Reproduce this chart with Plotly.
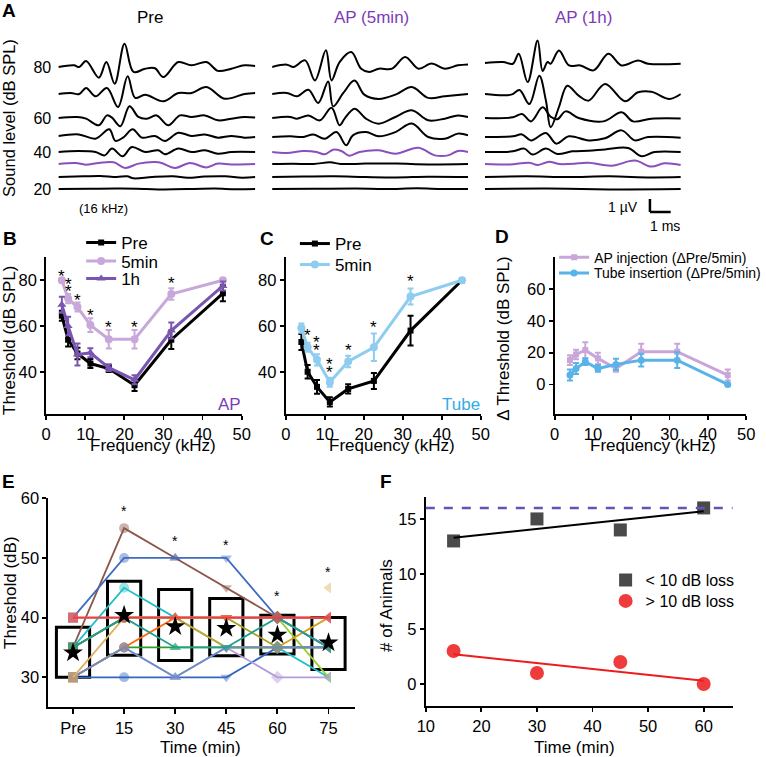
import numpy as np
import plotly.graph_objects as go

W, H = 766, 757
FONT = "Liberation Sans, Arial, sans-serif"

# ---------------- Panel A: ABR waveforms (time ms, amplitude µV) ----------------
abr_levels = [80, 70, 60, 50, 40, 30, 25, 20]
abr_level_ticks = [80, 60, 40, 20]
abr_conditions = ["Pre", "AP (5min)", "AP (1h)"]
abr_threshold = [30, 40, 30]  # level drawn in purple for each condition

wave_pre = [
    [(0, 0), (0.75, 0.13), (1.0, 0.0), (1.33, 0.46), (1.94, -0.82), (2.30, 0.38), (2.70, -1.28), (3.17, 1.79),
     (3.60, -0.38), (4.16, -0.13), (4.63, -0.1), (5.03, -0.77), (5.75, 0.38), (6.38, 0.13), (7.10, 0.38),
     (7.65, -0.3), (8.29, -0.13), (8.92, 0.13), (9.44, 0.08)],
    [(0, 0), (0.59, 0.08), (1.0, 0.0), (1.33, 0.46), (1.78, -0.18), (2.33, 0.46), (2.86, -1.0), (3.32, 1.36),
     (3.68, -0.3), (4.16, -0.05), (5.03, -0.56), (5.75, 0.08), (6.38, 0.08), (7.10, 0.54), (7.97, -0.36),
     (8.92, 0.0), (9.44, 0.08)],
    [(0, 0), (0.9, 0.08), (1.33, -0.05), (1.94, -0.56), (2.33, 0.2), (2.57, 0.03), (2.97, -0.64), (3.41, 0.9),
     (3.84, 0.08), (4.24, -0.05), (4.71, 0.2), (5.27, -0.56), (5.83, 0.2), (6.38, 0.08), (7.02, 0.2),
     (7.65, -0.18), (8.29, -0.05), (8.92, 0.08), (9.44, 0.03)],
    [(0, 0.08), (0.98, 0.2), (1.78, -0.13), (2.44, 0.59), (2.73, -0.3), (3.1, -0.05), (3.56, 0.59), (4.0, -0.05),
     (4.63, 0.08), (5.11, -0.3), (5.75, 0.33), (6.38, 0.08), (7.02, 0.2), (7.65, -0.05), (8.29, 0.08),
     (8.92, -0.05), (9.44, 0)],
    [(0, 0), (0.98, 0.08), (1.78, 0), (2.22, -0.26), (2.57, 0.26), (3.08, -0.33), (3.52, 0.38), (4.16, 0),
     (4.79, 0.13), (5.11, -0.18), (5.75, 0.26), (6.38, 0), (7.02, 0.13), (7.65, -0.13), (8.29, 0), (9.44, 0)],
    [(0, 0), (0.83, 0.08), (1.3, -0.05), (1.94, 0.08), (2.65, 0.13), (3.2, -0.3), (3.84, 0.03), (4.63, 0.15),
     (4.95, 0.08), (5.59, -0.3), (6.3, 0.08), (7.1, -0.26), (7.65, 0.03), (8.29, -0.03), (9.44, 0)],
    [(0, 0), (1.2, 0.05), (2.0, 0.08), (2.8, 0.0), (3.3, 0.05), (3.6, -0.1), (4.5, 0.0), (5.5, 0.05),
     (6.2, -0.05), (7.0, 0.03), (8.0, 0.05), (8.8, -0.05), (9.44, 0)],
    [(0, 0), (1.5, 0.02), (3.0, 0.03), (4.2, 0.0), (5.0, -0.03), (6.5, 0.0), (7.5, 0.03), (8.5, -0.02), (9.44, 0)],
]
wave_ap5 = [
    [(0, 0), (0.71, 0.18), (1.03, 0), (1.59, 0.51), (2.06, -1.03), (2.59, 1.28), (2.86, -1.03), (3.25, 0.38),
     (3.81, 1.15), (4.29, -0.13), (4.68, -0.38), (5.14, -0.13), (5.78, -0.13), (6.41, 0.77), (7.05, -0.13),
     (7.68, 0.26), (8.32, -0.13), (8.95, 0.13), (9.44, 0.2)],
    [(0, 0), (0.71, 0.08), (1.19, -0.18), (1.75, 0.33), (2.22, -0.69), (2.70, 0.97), (2.94, -0.95), (3.43, 0.08),
     (3.97, 1.03), (4.44, -0.05), (5.14, -0.38), (5.94, -0.05), (6.73, 0.54), (7.52, -0.3), (8.32, -0.18),
     (9.44, 0)],
    [(0, 0), (0.87, 0.08), (1.19, -0.05), (1.75, 0.2), (2.3, -0.18), (2.86, 0.79), (3.25, -0.56), (3.49, -0.05),
     (3.97, 0.72), (4.52, -0.05), (5.14, -0.44), (5.94, 0.08), (6.73, 0.59), (7.52, -0.18), (8.32, -0.05),
     (8.95, 0.2), (9.44, 0.08)],
    [(0, 0), (0.87, 0.05), (1.51, 0), (1.98, 0.2), (2.54, -0.13), (3.1, 0.38), (3.57, -0.64), (3.89, 0.13),
     (4.52, 0.38), (5.14, 0.05), (5.94, 0.38), (6.73, 1.03), (7.52, 0), (8.32, -0.13), (8.95, 0.26), (9.44, 0.13)],
    [(0, 0), (0.71, -0.08), (1.51, 0.08), (2.14, 0), (2.54, -0.18), (2.94, 0.18), (3.33, 0.08), (3.73, -0.28),
     (4.21, 0), (5.14, 0.13), (5.94, -0.13), (7.05, 0.33), (7.84, -0.26), (8.48, -0.26), (8.95, 0.08), (9.44, 0)],
    [(0, 0), (1.0, 0.02), (2.0, 0), (2.8, 0.13), (3.3, 0), (4.5, 0.03), (6.0, 0.03), (7.5, -0.03), (9.44, 0)],
    [(0, 0), (1.5, 0.03), (3.0, 0.05), (4.5, 0), (6.0, -0.03), (7.5, 0.02), (9.44, 0)],
    [(0, 0), (2.0, 0.02), (4.0, 0.03), (5.5, 0), (7.0, 0.05), (8.2, 0), (9.44, 0)],
]
wave_ap1h = [
    [(0, 0.3), (0.87, 0.38), (1.35, 0.25), (1.63, 1.02), (2.06, -1.16), (2.54, 2.04), (2.78, -0.3), (3.02, 0.38),
     (3.17, 0.25), (3.57, 1.27), (4.05, 0.12), (4.6, 0.12), (5.24, -0.26), (5.95, 1.02), (6.59, 0.12),
     (7.38, 0.5), (7.86, 0.25), (9.44, 0.25)],
    [(0, 0), (1.27, -0.05), (1.67, 0.31), (2.14, -0.77), (2.62, 1.41), (2.94, -0.5), (3.17, -2.56), (3.57, -1.0),
     (3.97, 0.64), (4.52, -0.13), (5.0, -0.51), (5.79, 0.77), (6.75, -0.56), (7.38, 0.13), (8.02, 0.18),
     (8.89, -0.38), (9.44, 0)],
    [(0, 0), (1.35, 0.05), (1.79, 0.31), (2.22, -0.26), (2.78, 0.82), (3.17, 0.1), (3.49, -0.1), (3.89, 0.51),
     (4.52, 0), (5.71, -0.26), (6.59, 0.44), (7.14, -0.26), (8.02, -0.05), (9.44, -0.03)],
    [(0, 0), (1.35, 0.05), (1.79, 0.2), (2.22, -0.26), (2.94, 0.31), (3.44, -0.51), (4.05, 0.05), (5.0, -0.26),
     (5.79, -0.1), (6.59, 0.51), (7.22, -0.26), (7.86, 0), (9.44, -0.05)],
    [(0, 0), (1.35, 0.05), (1.9, 0.26), (2.3, -0.2), (2.94, 0.26), (3.49, -0.15), (4.21, 0.05), (5.0, 0.1),
     (5.79, 0.2), (6.9, 0.31), (7.54, -0.33), (8.17, 0), (9.44, 0)],
    [(0, 0), (1.19, -0.03), (2.14, 0.1), (2.54, -0.08), (3.1, 0.18), (3.57, 0), (4.52, 0.05), (5.0, 0.1),
     (6.11, -0.13), (7.22, 0.26), (8.02, -0.2), (8.65, 0.05), (9.44, -0.08)],
    [(0, 0), (2.0, 0.05), (4.0, 0), (6.0, 0.05), (8.0, -0.03), (9.44, 0)],
    [(0, 0), (3.0, 0.03), (6.0, -0.03), (9.44, 0)],
]

# ---------------- Panels B–D: thresholds vs frequency ----------------
freqs_khz = [4, 5.6, 8, 11.3, 16, 22.6, 32, 45.2]

b_pre = [64.5, 54.0, 48.0, 43.6, 41.4, 34.1, 54.0, 74.3]
b_pre_err = [2.2, 3.0, 2.5, 2.0, 1.5, 2.5, 4.0, 3.5]
b_5min = [80.0, 72.0, 68.3, 60.4, 54.2, 54.2, 74.0, 80.0]
b_5min_err = [1.0, 2.0, 2.0, 3.0, 4.0, 4.0, 2.5, 1.0]
b_1h = [69.3, 60.0, 47.5, 48.3, 41.8, 36.5, 58.0, 77.5]
b_1h_err = [3.5, 4.0, 4.8, 2.0, 1.5, 2.0, 3.5, 2.0]
b_star_khz = [4, 5.6, 5.6, 8, 11.3, 16, 22.6, 32]
b_star_db = [83.2, 79.7, 76.7, 73.0, 66.3, 61.0, 61.2, 80.5]

c_pre = [53.0, 40.0, 33.4, 26.8, 32.5, 36.0, 58.0, 80.0]
c_pre_err = [3.5, 3.0, 3.0, 2.0, 2.0, 3.5, 6.5, 0.5]
c_5min = [59.1, 50.7, 45.2, 35.4, 44.5, 50.7, 72.9, 80.0]
c_5min_err = [2.0, 2.0, 2.5, 2.0, 2.5, 6.0, 3.5, 0.5]
c_star_khz = [5.6, 8, 8, 11.3, 11.3, 16, 22.6, 32]
c_star_db = [57.6, 54.7, 51.0, 44.7, 41.5, 51.0, 61.3, 81.0]

d_ap = [15.3, 18.9, 21.6, 16.4, 10.0, 20.6, 20.6, 5.9]
d_ap_err = [3.0, 3.0, 5.0, 3.5, 2.0, 5.0, 5.0, 3.5]
d_tube = [5.9, 10.0, 14.3, 10.0, 12.6, 15.3, 15.3, 0.0]
d_tube_err = [3.5, 3.5, 2.0, 2.0, 3.5, 4.0, 5.0, 0.5]

# ---------------- Panel E: individual thresholds over time ----------------
e_times = ["Pre", "15", "30", "45", "60", "75"]
e_animals = [
    [35, 55, 50, 45, 40, 35],
    [40, 50, 50, 50, 40, 35],
    [35, 45, 40, 35, 35, 30],
    [30, 35, 35, 35, 35, 35],
    [35, 40, 40, 40, 40, 30],
    [30, 30, 30, 30, 35, 35],
    [35, 40, 40, 35, 35, 40],
    [40, 40, 40, 40, 35, 35],
    [35, 40, 40, 40, 40, 40],
    [30, 35, 30, 35, 30, 30],
    [30, 35, 40, 40, 40, 40],
    [40, 40, 40, 40, 40, 40],
    [30, 35, 30, 35, 35, 35],
    [35, 40, 35, 35, 40, 35],
    [30, 40, 40, 40, None, 45],
    [40, 40, 40, 40, 40, 40],
]
e_mean = [34.1, 40.4, 38.5, 38.2, 37.1, 35.8]
e_box_low = [30.0, 33.7, 32.8, 33.6, 33.9, 31.3]
e_box_high = [38.4, 46.1, 44.7, 43.2, 40.4, 40.0]
e_sig_times = ["15", "30", "45", "60", "75"]
e_sig_db = [58.3, 53.3, 52.7, 44.1, 48.1]

# ---------------- Panel F: number of animals ----------------
f_time = [15, 30, 45, 60]
f_less10 = [13, 15, 14, 16]
f_more10 = [3, 1, 2, 0]
f_total = 16

# ---------------- styles ----------------
PURPLE_WAVE = "#8A4FBA"
PURPLE_TXT = "#7D3CB5"
LAV = "#C8A8DA"
PURP_1H = "#7A56B2"
SKY = "#8ECDF0"
TUBE_TXT = "#33ABE6"
D_AP = "#C9A6DA"
D_TUBE = "#58B3E8"
F_GRAY = "#4A4A4A"
F_RED = "#EF3B3B"
F_DASH = "#6A50B5"
e_colors = ["#8C564B", "#3D6CC0", "#22BFC8", "#2CA02C", "#9ACD32", "#3466C0", "#D4A017", "#A8A020",
            "#555555", "#B49BDA", "#FF6A10", "#E377C2", "#6A8CC8", "#20A090", "#E0B060", "#F03C3C"]
e_symbols = ["square", "circle", "triangle-up", "triangle-down", "diamond", "triangle-left"]


def xdom(a, b):
    return [a / W, b / W]


def ydom(top, bot):
    return [1 - bot / H, 1 - top / H]


def rgba(hexc, a):
    h = hexc.lstrip("#")
    return "rgba(%d,%d,%d,%.2f)" % (int(h[0:2], 16), int(h[2:4], 16), int(h[4:6], 16), a)


fig = go.Figure()
layout = {}

# ---------- Panel A ----------
level_px = [67, 94, 118, 137, 152, 164, 177, 189]  # baseline pixel rows
UV_PX = 13.0
offsets = [(189 - p) / UV_PX for p in level_px]
a_domains = [(59, 258), (275, 473), (490, 688)]
waves = [wave_pre, wave_ap5, wave_ap1h]
for k in range(3):
    s = "" if k == 0 else str(k + 1)
    layout["xaxis" + s] = dict(domain=xdom(*a_domains[k]), range=[0, 9.44], visible=False, anchor="y" + s,
                               automargin=False)
    layout["yaxis" + s] = dict(domain=ydom(35, 216), range=[(189 - 216) / UV_PX, (189 - 35) / UV_PX],
                               anchor="x" + s, showline=False, showgrid=False, zeroline=False, automargin=False,
                               showticklabels=(k == 0), ticks="outside", ticklen=3, tickcolor="rgba(0,0,0,0)",
                               tickvals=[offsets[abr_levels.index(l)] for l in abr_level_ticks],
                               ticktext=[str(l) for l in abr_level_ticks],
                               tickfont=dict(size=16, color="black", family=FONT))
    for i, lvl in enumerate(abr_levels):
        pts = waves[k][i]
        col = PURPLE_WAVE if lvl == abr_threshold[k] else "black"
        fig.add_trace(go.Scatter(x=[p[0] for p in pts], y=[offsets[i] + p[1] for p in pts], mode="lines",
                                 line=dict(color=col, width=2, shape="spline", smoothing=1.0),
                                 xaxis="x" + s, yaxis="y" + s, showlegend=False, hoverinfo="skip"))

# scale bar: 1 ms x 1 µV
sb_x0, sb_y0 = (657 - 490) / 21.0, (189 - 212) / UV_PX
fig.add_shape(type="line", xref="x3", yref="y3", x0=sb_x0, x1=sb_x0, y0=sb_y0, y1=sb_y0 + 1,
              line=dict(color="black", width=2.5))
fig.add_shape(type="line", xref="x3", yref="y3", x0=sb_x0, x1=sb_x0 + 1, y0=sb_y0, y1=sb_y0,
              line=dict(color="black", width=2.5))


# ---------- common axis style ----------
def axstyle(**kw):
    d = dict(showline=True, linecolor="black", linewidth=2, ticks="outside", ticklen=4, tickwidth=1.8,
             tickcolor="black", showgrid=False, zeroline=False, mirror=False, automargin=False,
             tickfont=dict(size=16.5, color="black", family=FONT))
    d.update(kw)
    return d


freq_ticks = [0, 10, 20, 30, 40, 50]
# B
layout["xaxis4"] = axstyle(domain=xdom(46.7, 244.2), range=[0, 50], tickvals=freq_ticks, anchor="y4")
layout["yaxis4"] = axstyle(domain=ydom(256.7, 414.3), range=[21.4, 90.3], tickvals=[40, 60, 80], anchor="x4")
# C
layout["xaxis5"] = axstyle(domain=xdom(288.8, 485.8), range=[0, 50], tickvals=freq_ticks, anchor="y5")
layout["yaxis5"] = axstyle(domain=ydom(256.7, 414.3), range=[21.4, 90.3], tickvals=[40, 60, 80], anchor="x5")
# D
layout["xaxis6"] = axstyle(domain=xdom(560.5, 754), range=[0, 50], tickvals=freq_ticks, anchor="y6")
layout["yaxis6"] = axstyle(domain=ydom(256.7, 414.3), range=[-18.8, 80.4], tickvals=[0, 20, 40, 60], anchor="x6")
# E
layout["xaxis7"] = axstyle(domain=xdom(49, 358.3), range=[-0.48, 5.51], tickvals=list(range(len(e_times))),
                           ticktext=e_times, anchor="y7", ticklen=5)
layout["yaxis7"] = axstyle(domain=ydom(498.3, 706.7), range=[25.07, 60], tickvals=[30, 40, 50, 60], anchor="x7")
# F
layout["xaxis8"] = axstyle(domain=xdom(430.3, 740.3), range=[10, 65.2], tickvals=[10, 20, 30, 40, 50, 60],
                           anchor="y8")
layout["yaxis8"] = axstyle(domain=ydom(496.7, 705.7), range=[-1.97, 17.02], tickvals=[0, 5, 10, 15], anchor="x8")


def err_trace(x, y, e, name, color, symbol, size, ax, legend, width=3):
    return go.Scatter(x=x, y=y, name=name, mode="lines+markers",
                      error_y=dict(type="data", array=e, color=color, thickness=2, width=3),
                      line=dict(color=color, width=width), marker=dict(symbol=symbol, size=size, color=color),
                      xaxis="x" + ax, yaxis="y" + ax, legend=legend, cliponaxis=False)


# B traces
fig.add_trace(err_trace(freqs_khz, b_pre, b_pre_err, "Pre", "black", "square", 6, "4", "legend"))
fig.add_trace(err_trace(freqs_khz, b_5min, b_5min_err, "5min", LAV, "circle", 8, "4", "legend2"))
fig.add_trace(err_trace(freqs_khz, b_1h, b_1h_err, "1h", PURP_1H, "triangle-up", 8, "4", "legend3"))
# C traces
fig.add_trace(err_trace(freqs_khz, c_pre, c_pre_err, "Pre", "black", "square", 6, "5", "legend4"))
fig.add_trace(err_trace(freqs_khz, c_5min, c_5min_err, "5min", SKY, "circle", 8, "5", "legend5"))
# D traces
fig.add_trace(err_trace(freqs_khz, d_ap, d_ap_err, "AP injection (ΔPre/5min)", D_AP, "square", 6, "6", "legend6"))
fig.add_trace(err_trace(freqs_khz, d_tube, d_tube_err, "Tube insertion (ΔPre/5min)", D_TUBE, "circle", 7, "6",
                        "legend7"))

# E traces
xe = list(range(len(e_times)))
fig.add_trace(go.Bar(x=xe, y=[h - l for h, l in zip(e_box_high, e_box_low)], base=e_box_low, width=0.65,
                     marker=dict(color="rgba(0,0,0,0)", line=dict(color="black", width=3)),
                     xaxis="x7", yaxis="y7", showlegend=False, hoverinfo="skip"))
for vals, col in zip(e_animals, e_colors):
    fig.add_trace(go.Scatter(x=xe, y=vals, mode="lines+markers", connectgaps=False,
                             line=dict(color=col, width=1.8),
                             marker=dict(symbol=e_symbols, size=10, color=rgba(col, 0.45)),
                             xaxis="x7", yaxis="y7", showlegend=False, cliponaxis=False))
fig.add_trace(go.Scatter(x=xe, y=e_mean, mode="markers", marker=dict(symbol="star", size=15, color="black"),
                         xaxis="x7", yaxis="y7", showlegend=False))

# F traces
fig.add_trace(go.Scatter(x=f_time, y=f_less10, mode="markers", name="&lt; 10 dB loss",
                         marker=dict(symbol="square", size=13, color=F_GRAY), xaxis="x8", yaxis="y8",
                         legend="legend8", cliponaxis=False))
fig.add_trace(go.Scatter(x=f_time, y=f_more10, mode="markers", name="&gt; 10 dB loss",
                         marker=dict(symbol="circle", size=14, color=F_RED), xaxis="x8", yaxis="y8",
                         legend="legend9", cliponaxis=False))
for vals, col in [(f_less10, "black"), (f_more10, "#EE1C1C")]:
    slope, icpt = np.polyfit(f_time, vals, 1)
    xs = [min(f_time), max(f_time)]
    fig.add_trace(go.Scatter(x=xs, y=[slope * v + icpt for v in xs], mode="lines", line=dict(color=col, width=2),
                             xaxis="x8", yaxis="y8", showlegend=False))
fig.add_shape(type="line", xref="x8 domain", yref="y8", x0=0, x1=1, y0=f_total, y1=f_total,
              line=dict(color=F_DASH, width=2.5, dash="dash"))

# significance asterisks
for xs, ys, ax in [(b_star_khz, b_star_db, "4"), (c_star_khz, c_star_db, "5")]:
    for x, y in zip(xs, ys):
        fig.add_annotation(x=x, y=y, xref="x" + ax, yref="y" + ax, text="*", showarrow=False, yshift=-4,
                           font=dict(size=17, color="black", family=FONT))
for t, y in zip(e_sig_times, e_sig_db):
    fig.add_annotation(x=e_times.index(t), y=y, xref="x7", yref="y7", text="*", showarrow=False, yshift=-3,
                       font=dict(size=14, color="black", family=FONT))


def ann(text, x, y, size=17, color="black", bold=False, angle=0, xanchor="center"):
    fig.add_annotation(text=("<b>%s</b>" % text) if bold else text, x=x / W, y=1 - y / H, xref="paper",
                       yref="paper", showarrow=False, textangle=angle, xanchor=xanchor, yanchor="middle",
                       font=dict(family=FONT, size=size, color=color))


# panel letters
for letter, x, y in [("A", 9, 10), ("B", 10, 238), ("C", 270, 238), ("D", 507, 237), ("E", 9, 482), ("F", 390, 482)]:
    ann(letter, x, y, size=19, bold=True)

# Panel A text
ann(abr_conditions[0], 152, 18, size=17)
ann(abr_conditions[1], 375, 18, size=17, color=PURPLE_TXT)
ann(abr_conditions[2], 590, 18, size=17, color=PURPLE_TXT)
ann("Sound level (dB SPL)", 9, 118, size=16.5, angle=-90)
ann("(16 kHz)", 105, 208, size=13)
ann("1 µV", 647, 207, size=14, xanchor="right")
ann("1 ms", 672, 226, size=14)

# axis titles
ann("Threshold (dB SPL)", 10, 340, angle=-90)
ann("Frequency (kHz)", 155, 445)
ann("Frequency (kHz)", 396, 445)
ann("Frequency (kHz)", 660, 446)
ann("Δ Threshold (dB SPL)", 508, 339, angle=-90)
ann("AP", 232, 404, color=PURPLE_TXT)
ann("Tube", 466, 404, color=TUBE_TXT)
ann("Threshold (dB)", 10, 593, angle=-90)
ann("Time (min)", 203, 747)
ann("# of Animals", 390, 605, angle=-90)
ann("Time (min)", 581, 747)

# one legend per entry so each entry sits where the reference shows it
leg_common = dict(bgcolor="rgba(0,0,0,0)", borderwidth=0, xanchor="left", yanchor="middle", itemwidth=30,
                  tracegroupgap=0, itemclick=False, itemdoubleclick=False)
legend_spots = [("legend", 82, 243, 17), ("legend2", 82, 261.5, 17), ("legend3", 82, 279, 17),
                ("legend4", 298, 244, 17), ("legend5", 298, 265, 17),
                ("legend6", 560, 257.7, 14), ("legend7", 560, 273.3, 14),
                ("legend8", 612, 580, 16), ("legend9", 612, 601, 16)]
for name, lx, ly, fs in legend_spots:
    layout[name] = dict(leg_common, x=lx / W, y=1 - ly / H, font=dict(size=fs, color="black", family=FONT))

fig.update_layout(template="none", width=W, height=H, autosize=False, margin=dict(l=0, r=0, t=0, b=0, pad=0),
                  paper_bgcolor="white", plot_bgcolor="white", showlegend=True, hovermode=False,
                  font=dict(family=FONT, color="black"), **layout)

fig.write_html("out.html", config={"displayModeBar": False, "staticPlot": True},
               post_script="document.body.style.margin='0px';document.body.style.padding='0px';")
